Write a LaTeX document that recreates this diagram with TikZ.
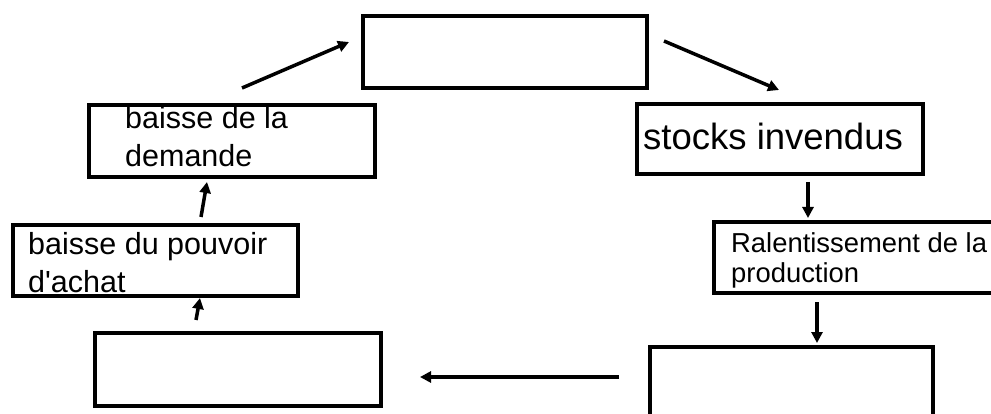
\documentclass[tikz,border=0pt]{standalone}
\usepackage{fontspec}
\setmainfont{Liberation Sans}
\usetikzlibrary{arrows.meta}
\begin{document}
\begin{tikzpicture}[x=1pt,y=-1pt,
	box/.style={draw,line width=4pt,inner sep=0pt},
	txt/.style={inner sep=0pt,anchor=base west,align=left},
	arr/.style={line width=3.5pt,-{Triangle[length=11pt,width=11pt]}}]
	\useasboundingbox (0,0) rectangle (991,414);

	\node[box,minimum width=284pt,minimum height=72pt] at (505,52) (top) {};
	\node[box,minimum width=286pt,minimum height=72pt] at (232,141) (demande) {};
	\node[box,minimum width=285pt,minimum height=71pt] at (155.5,260.5) (pouvoir) {};
	\node[box,minimum width=286pt,minimum height=73pt] at (238,369.5) (revenu) {};
	\node[box,minimum width=286pt,minimum height=70pt] at (780,139) (stocks) {};
	\node[box,minimum width=286pt,minimum height=71pt] at (857,257.5) (ralenti) {};
	\node[box,minimum width=283pt,minimum height=82pt] at (791.5,388) (chomage) {};

	% base anchor = baseline of the last line
	\node[txt,font=\fontsize{30.5}{38}\selectfont] at (125,167) (t-demande) {baisse de la\\demande};
	\node[txt,font=\fontsize{30.5}{38}\selectfont] at (28,292) (t-pouvoir) {baisse du pouvoir\\d\textquotesingle achat};
	\node[txt,font=\fontsize{36.5}{44}\selectfont] at (643,150) (t-stocks) {stocks invendus};
	\node[txt,font=\fontsize{27.4}{30}\selectfont] at (731,283) (t-ralenti) {Ralentissement de la\\production};

	\coordinate (a1) at (242,88);   \coordinate (b1) at (349,42);
	\coordinate (a2) at (664,41);   \coordinate (b2) at (779,90);
	\coordinate (a3) at (808,182);  \coordinate (b3) at (808,218);
	\coordinate (a4) at (817,302);  \coordinate (b4) at (817,343);
	\coordinate (a5) at (619,377);  \coordinate (b5) at (420,377);
	\coordinate (a6) at (201,217);  \coordinate (b6) at (207,182);
	\coordinate (a7) at (196,320);  \coordinate (b7) at (200,298);

	\draw[arr] (a1) -- (b1);
	\draw[arr] (a2) -- (b2);
	\draw[arr] (a3) -- (b3);
	\draw[arr] (a4) -- (b4);
	\draw[arr] (a5) -- (b5);
	\draw[arr] (a6) -- (b6);
	\draw[arr] (a7) -- (b7);
\end{tikzpicture}
\end{document}
